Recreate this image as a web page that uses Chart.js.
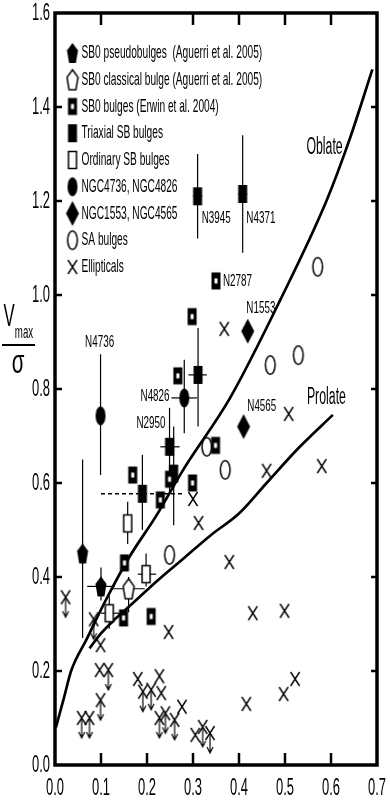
<!DOCTYPE html>
<html>
<head>
<meta charset="utf-8">
<script src="https://cdn.jsdelivr.net/npm/chart.js@4/dist/chart.umd.min.js"></script>
<style>
  html, body { margin: 0; padding: 0; background: #fff; }
  #myChart { display: block; }
</style>
</head>
<body>
<canvas id="myChart" width="390" height="809"></canvas>
<script>
// ---- data ----
const xTicks = [0.0, 0.1, 0.2, 0.3, 0.4, 0.5, 0.6, 0.7]
const yTicks = [0.0, 0.2, 0.4, 0.6, 0.8, 1.0, 1.2, 1.4, 1.6]

const oblateX = [0.002, 0.02, 0.035, 0.07, 0.11, 0.16, 0.22, 0.28, 0.38, 0.49, 0.59, 0.64, 0.69]
const oblateY = [0.08, 0.145, 0.20, 0.27, 0.35, 0.44, 0.53, 0.63, 0.78, 0.99, 1.20, 1.33, 1.48]

const prolateX = [0.075, 0.10, 0.13, 0.17, 0.22, 0.28, 0.34, 0.40, 0.46, 0.53, 0.604]
const prolateY = [0.248, 0.28, 0.31, 0.345, 0.39, 0.44, 0.49, 0.535, 0.60, 0.675, 0.745]

// error limits: xLo/xHi, yLo/yHi
const sb0Pseudo = [
    { x: 0.06, y: 0.45, yLo: 0.27, yHi: 0.65 },
    { x: 0.10, y: 0.38, xLo: 0.07, xHi: 0.13, yLo: 0.35, yHi: 0.42 },
]
const sb0Classical = [
    { x: 0.16, y: 0.375, xLo: 0.125, xHi: 0.195, yLo: 0.325, yHi: 0.40 },
]
const sb0Erwin = [
    { x: 0.35, y: 1.03 }, { x: 0.298, y: 0.954 }, { x: 0.267, y: 0.828 },
    { x: 0.169, y: 0.617 }, { x: 0.229, y: 0.564 }, { x: 0.249, y: 0.608 },
    { x: 0.299, y: 0.60 }, { x: 0.349, y: 0.68 }, { x: 0.151, y: 0.43 },
    { x: 0.149, y: 0.313 }, { x: 0.209, y: 0.316 },
]
const triaxialSB = [
    { x: 0.31, y: 1.21, xLo: 0.30, xHi: 0.32, yLo: 1.12, yHi: 1.30 },
    { x: 0.408, y: 1.215, xLo: 0.398, xHi: 0.418, yLo: 1.09, yHi: 1.34 },
    { x: 0.311, y: 0.83, xLo: 0.29, xHi: 0.33, yLo: 0.72, yHi: 0.93 },
    { x: 0.249, y: 0.677, xLo: 0.229, xHi: 0.271, yLo: 0.58, yHi: 0.76 },
    { x: 0.258, y: 0.62, yLo: 0.51, yHi: 0.72 },
    { x: 0.19, y: 0.577, xLo: 0.10, xHi: 0.28, yLo: 0.50, yHi: 0.66, dash: true },
]
const ordinarySB = [
    { x: 0.158, y: 0.514, yLo: 0.47, yHi: 0.56 },
    { x: 0.198, y: 0.406, xLo: 0.18, xHi: 0.22, yLo: 0.38, yHi: 0.45 },
    { x: 0.118, y: 0.323, xLo: 0.10, xHi: 0.14, yLo: 0.29, yHi: 0.36 },
]
const ngcCircles = [
    { x: 0.099, y: 0.743, yLo: 0.617, yHi: 0.874 },
    { x: 0.281, y: 0.781, xLo: 0.253, xHi: 0.309, yLo: 0.706, yHi: 0.862 },
]
const ngcDiamonds = [
    { x: 0.419, y: 0.923 }, { x: 0.41, y: 0.72 },
]
const saBulges = [
    { x: 0.571, y: 1.06 }, { x: 0.468, y: 0.851 }, { x: 0.529, y: 0.872 },
    { x: 0.33, y: 0.677 }, { x: 0.37, y: 0.628 }, { x: 0.249, y: 0.447 },
]
const ellipticals = [
    { x: 0.368, y: 0.928 }, { x: 0.508, y: 0.747 }, { x: 0.58, y: 0.636 },
    { x: 0.46, y: 0.626 }, { x: 0.30, y: 0.566 }, { x: 0.312, y: 0.515 },
    { x: 0.379, y: 0.432 }, { x: 0.43, y: 0.323 }, { x: 0.499, y: 0.328 },
    { x: 0.247, y: 0.283 }, { x: 0.522, y: 0.183 }, { x: 0.497, y: 0.151 },
    { x: 0.416, y: 0.130 }, { x: 0.099, y: 0.255 }, { x: 0.097, y: 0.202 },
    { x: 0.180, y: 0.183 }, { x: 0.227, y: 0.189 }, { x: 0.231, y: 0.153 },
    { x: 0.276, y: 0.124 }, { x: 0.305, y: 0.064 },
]
// upper limits (arrow down)
const ellipticalLimits = [
    { x: 0.023, y: 0.357 }, { x: 0.084, y: 0.31 }, { x: 0.116, y: 0.202 },
    { x: 0.099, y: 0.138 }, { x: 0.058, y: 0.10 }, { x: 0.075, y: 0.10 },
    { x: 0.191, y: 0.156 }, { x: 0.209, y: 0.160 }, { x: 0.227, y: 0.10 },
    { x: 0.240, y: 0.11 }, { x: 0.26, y: 0.096 }, { x: 0.321, y: 0.081 },
    { x: 0.337, y: 0.068 },
]

const noteText = ['N4736', 'N4826', 'N2950', 'N3945', 'N4371', 'N2787', 'N1553', 'N4565', 'Oblate', 'Prolate']
const noteX = [0.097, 0.249, 0.240, 0.319, 0.416, 0.365, 0.416, 0.418, 0.586, 0.59]
const noteY = [0.90, 0.785, 0.726, 1.164, 1.164, 1.03, 0.972, 0.762, 1.313, 0.781]
const noteAlign = ['center', 'right', 'right', 'left', 'left', 'left', 'left', 'left', 'center', 'center']

// ---- marker images ----
function makeMarker(kind) {
    const c = document.createElement('canvas')
    let w = 14, h = 26
    if (kind === 'xArrow') { w = 12; h = 56 }
    if (kind === 'diamond') { w = 16; h = 28 }
    c.width = w
    c.height = h
    const g = c.getContext('2d')
    const cx = w / 2, cy = h / 2
    g.fillStyle = '#000'
    g.strokeStyle = '#000'

    const pentagon = () => {
        g.beginPath()
        for (let k = 0; k < 5; k++) {
            const a = -Math.PI / 2 + k * 2 * Math.PI / 5
            const px = cx + 5.8 * Math.cos(a), py = cy + 1 + 11 * Math.sin(a)
            k === 0 ? g.moveTo(px, py) : g.lineTo(px, py)
        }
        g.closePath()
    }

    if (kind === 'pentaFill') { pentagon(); g.fill() }
    if (kind === 'pentaOpen') {
        pentagon(); g.fillStyle = '#fff'; g.fill(); g.lineWidth = 1.5; g.stroke()
    }
    if (kind === 'sb0') {
        g.fillRect(cx - 4.5, cy - 8.5, 9, 17)
        g.fillStyle = '#fff'
        g.fillRect(cx - 1.5, cy - 2.5, 3, 5)
    }
    if (kind === 'squareFill') g.fillRect(cx - 4.5, cy - 9, 9, 18)
    if (kind === 'squareOpen') {
        g.fillStyle = '#fff'
        g.fillRect(cx - 4, cy - 8.5, 8, 17)
        g.lineWidth = 1.5
        g.strokeRect(cx - 4, cy - 8.5, 8, 17)
    }
    if (kind === 'circleFill') {
        g.beginPath(); g.ellipse(cx, cy, 5, 9.5, 0, 0, Math.PI * 2); g.fill()
    }
    if (kind === 'circleOpen') {
        g.beginPath(); g.ellipse(cx, cy, 4.8, 9.3, 0, 0, Math.PI * 2)
        g.lineWidth = 1.5; g.stroke()
    }
    if (kind === 'diamond') {
        g.beginPath()
        g.moveTo(cx, cy - 12.5); g.lineTo(cx + 6.5, cy); g.lineTo(cx, cy + 12.5); g.lineTo(cx - 6.5, cy)
        g.closePath(); g.fill()
    }
    if (kind === 'x' || kind === 'xArrow') {
        g.lineWidth = 1.4
        g.beginPath()
        g.moveTo(cx - 4.5, cy - 7); g.lineTo(cx + 4.5, cy + 7)
        g.moveTo(cx + 4.5, cy - 7); g.lineTo(cx - 4.5, cy + 7)
        g.stroke()
    }
    if (kind === 'xArrow') {
        g.lineWidth = 1.2
        g.beginPath()
        g.moveTo(cx, cy); g.lineTo(cx, cy + 20)
        g.moveTo(cx - 3, cy + 14); g.lineTo(cx, cy + 20); g.lineTo(cx + 3, cy + 14)
        g.stroke()
    }
    return c
}

const FONT = '"Liberation Sans", Arial, sans-serif'
// text in the figure is tall and narrow
function tallText(ctx, str, x, y, size, align, sx, sy) {
    ctx.save()
    ctx.translate(x, y)
    ctx.scale(sx || 0.82, sy || 1.5)
    ctx.font = size + 'px ' + FONT
    ctx.textAlign = align
    ctx.textBaseline = 'middle'
    ctx.fillStyle = '#000'
    ctx.fillText(str, 0, 0)
    ctx.restore()
}

const pointSet = (label, data, marker, inLegend) => ({
    label: label,
    data: data,
    pointStyle: makeMarker(marker),
    showLine: false,
    inLegend: inLegend,
    order: 0,
})

const curve = (xs, ys) => ({
    label: '',
    data: xs.map((x, i) => ({ x: x, y: ys[i] })),
    showLine: true,
    borderColor: '#000',
    borderWidth: 2.7,
    pointRadius: 0,
    cubicInterpolationMode: 'monotone',
    order: 10,
})

const datasets = [
    curve(oblateX, oblateY),
    curve(prolateX, prolateY),
    pointSet('SB0 pseudobulges  (Aguerri et al. 2005)', sb0Pseudo, 'pentaFill', true),
    pointSet('SB0 classical bulge (Aguerri et al. 2005)', sb0Classical, 'pentaOpen', true),
    pointSet('SB0 bulges (Erwin et al. 2004)', sb0Erwin, 'sb0', true),
    pointSet('Triaxial SB bulges', triaxialSB, 'squareFill', true),
    pointSet('Ordinary SB bulges', ordinarySB, 'squareOpen', true),
    pointSet('NGC4736, NGC4826', ngcCircles, 'circleFill', true),
    pointSet('NGC1553, NGC4565', ngcDiamonds, 'diamond', true),
    pointSet('SA bulges', saBulges, 'circleOpen', true),
    pointSet('Ellipticals', ellipticals, 'x', true),
    pointSet('Ellipticals (upper limits)', ellipticalLimits, 'xArrow', false),
]

// ---- plugins ----
const errorBars = {
    id: 'errorBars',
    beforeDatasetsDraw(chart) {
        const { ctx, scales: { x, y } } = chart
        ctx.save()
        ctx.strokeStyle = '#000'
        chart.data.datasets.forEach((ds) => {
            if (ds.showLine) return
            ds.data.forEach((p) => {
                const px = x.getPixelForValue(p.x), py = y.getPixelForValue(p.y)
                if (p.yLo !== undefined) {
                    ctx.lineWidth = 1.2
                    ctx.setLineDash([])
                    ctx.beginPath()
                    ctx.moveTo(px, y.getPixelForValue(p.yLo))
                    ctx.lineTo(px, y.getPixelForValue(p.yHi))
                    ctx.stroke()
                }
                if (p.xLo !== undefined) {
                    ctx.lineWidth = p.dash ? 1.5 : 1.2
                    ctx.setLineDash(p.dash ? [4, 3] : [])
                    ctx.beginPath()
                    ctx.moveTo(x.getPixelForValue(p.xLo), py)
                    ctx.lineTo(x.getPixelForValue(p.xHi), py)
                    ctx.stroke()
                }
            })
        })
        ctx.restore()
    },
}

const frameAndText = {
    id: 'frameAndText',
    afterDraw(chart) {
        const { ctx, chartArea: a, scales: { x, y } } = chart
        ctx.save()
        ctx.strokeStyle = '#000'
        ctx.lineWidth = 3.5
        ctx.strokeRect(a.left, a.top, a.right - a.left, a.bottom - a.top)

        // inward ticks
        ctx.lineWidth = 2.5
        ctx.beginPath()
        x.ticks.forEach((t) => {
            const v = Math.round(t.value * 10) / 10
            if (v <= 0 || v >= 0.7) return
            const px = x.getPixelForValue(t.value)
            ctx.moveTo(px, a.bottom); ctx.lineTo(px, a.bottom - 12)
            if (Math.abs(v - 0.2) > 1e-6) { ctx.moveTo(px, a.top); ctx.lineTo(px, a.top + 12) }
        })
        y.ticks.forEach((t) => {
            const v = Math.round(t.value * 10) / 10
            if (v <= 0 || v >= 1.6) return
            const py = y.getPixelForValue(t.value)
            ctx.moveTo(a.left, py); ctx.lineTo(a.left + 7, py)
            ctx.moveTo(a.right, py); ctx.lineTo(a.right - 6, py)
        })
        ctx.stroke()

        // tick labels
        x.ticks.forEach((t) => {
            tallText(ctx, t.value.toFixed(1), x.getPixelForValue(t.value), 788, 15.8, 'center')
        })
        y.ticks.forEach((t) => {
            tallText(ctx, t.value.toFixed(1), 50, y.getPixelForValue(t.value), 15.8, 'right')
        })

        // y title: Vmax over sigma
        tallText(ctx, 'V', 9, 318, 20.5, 'center')
        tallText(ctx, 'max', 24, 333, 11.8, 'center')
        ctx.lineWidth = 2
        ctx.beginPath(); ctx.moveTo(2, 345); ctx.lineTo(35, 345); ctx.stroke()
        tallText(ctx, 'σ', 18, 364, 25, 'center', 0.82, 1.35)

        // legend
        let row = 0
        chart.data.datasets.forEach((ds) => {
            if (!ds.inLegend) return
            const cy = 53 + row * 26.75
            const img = ds.pointStyle
            ctx.drawImage(img, 72.5 - img.width / 2, cy - img.height / 2)
            tallText(ctx, ds.label, 81.5, cy, 12.4, 'left')
            row++
        })
        ctx.restore()
    },
    afterDatasetsDraw(chart) {
        const { ctx, scales: { x, y } } = chart
        noteText.forEach((s, i) => {
            const big = s === 'Oblate' || s === 'Prolate'
            tallText(ctx, s, x.getPixelForValue(noteX[i]), y.getPixelForValue(noteY[i]),
                big ? 15 : 12, noteAlign[i], 0.82, big ? 1.55 : 1.4)
        })
    },
}

const config = {
    type: 'scatter',
    data: { datasets: datasets },
    options: {
        responsive: false,
        animation: false,
        events: [],
        layout: { padding: { top: 13, right: 13, left: 0, bottom: 0 } },
        plugins: { legend: { display: false }, tooltip: { enabled: false } },
        scales: {
            x: {
                type: 'linear', min: 0, max: 0.7,
                ticks: { stepSize: 0.1, display: false },
                grid: { display: false }, border: { display: false },
                afterFit: (s) => { s.height = 44 },
            },
            y: {
                type: 'linear', min: 0, max: 1.6,
                ticks: { stepSize: 0.2, display: false },
                grid: { display: false }, border: { display: false },
                afterFit: (s) => { s.width = 55 },
            },
        },
    },
    plugins: [errorBars, frameAndText],
}

const myChart = new Chart(document.getElementById('myChart'), config)
</script>
</body>
</html>
